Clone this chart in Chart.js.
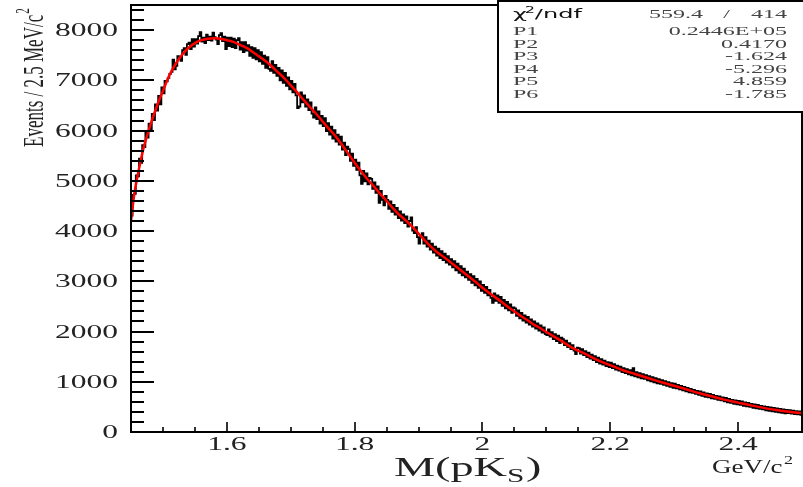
<!DOCTYPE html>
<html>
<head>
<meta charset="utf-8">
<script src="https://cdn.jsdelivr.net/npm/chart.js@4.4.0/dist/chart.umd.min.js"></script>
<style>
  body { margin: 0; background: #fff; }
</style>
</head>
<body>
<canvas id="massChart" width="803" height="487"></canvas>
<script>
// histogram: 420 bins of 2.5 MeV from 1.45 to 2.50 GeV
var binLow = 1.45;
var binWidth = 0.0025;
var counts = [
  4310, 4720, 4740, 5110, 5090, 5440, 5360, 5710, 5670, 5960,
  5860, 6140, 6020, 6330, 6210, 6520, 6400, 6690, 6520, 6860,
  6740, 6990, 6980, 7050, 7130, 7170, 7410, 7220, 7290, 7480,
  7470, 7390, 7600, 7640, 7510, 7720, 7750, 7620, 7820, 7670,
  7820, 7730, 7880, 7960, 7770, 7850, 7740, 7910, 7800, 7870,
  7790, 7950, 7860, 7810, 7720, 7900, 7940, 7780, 7870, 7620,
  7850, 7680, 7850, 7660, 7830, 7640, 7800, 7840, 7610, 7760,
  7560, 7760, 7590, 7700, 7490, 7660, 7450, 7640, 7420, 7600,
  7380, 7560, 7330, 7490, 7250, 7460, 7230, 7190, 7380, 7150,
  7310, 7090, 7250, 7000, 7200, 6950, 7150, 6890, 7060, 6820,
  6990, 6760, 6930, 6700, 6450, 6480, 6760, 6560, 6700, 6480,
  6620, 6410, 6560, 6340, 6260, 6460, 6230, 6380, 6140, 6290,
  6090, 6250, 5990, 6150, 5920, 6080, 5840, 6010, 5780, 5920,
  5720, 5880, 5620, 5760, 5510, 5680, 5630, 5400, 5540, 5300,
  5420, 5220, 5360, 5110, 4940, 5200, 4990, 5150, 4930, 5060,
  5040, 4840, 4970, 4760, 4890, 4560, 4800, 4620, 4510, 4700,
  4620, 4440, 4590, 4380, 4520, 4330, 4460, 4260, 4390, 4210,
  4330, 4160, 4290, 4090, 4200, 4270, 4010, 3960, 4080, 3880,
  3750, 3910, 3960, 3750, 3880, 3690, 3810, 3630, 3750, 3570,
  3690, 3510, 3650, 3460, 3600, 3420, 3550, 3370, 3500, 3330,
  3440, 3280, 3400, 3220, 3350, 3170, 3300, 3120, 3250, 3080,
  3190, 3030, 3140, 2970, 3100, 2920, 3050, 2870, 3000, 2810,
  2930, 2770, 2890, 2720, 2830, 2670, 2570, 2760, 2610, 2720,
  2570, 2690, 2510, 2630, 2460, 2590, 2420, 2540, 2370, 2480,
  2460, 2310, 2420, 2260, 2370, 2220, 2320, 2180, 2290, 2140,
  2240, 2100, 2200, 2060, 2160, 2020, 2120, 1980, 2080, 1950,
  1930, 2040, 1900, 1990, 1850, 1950, 1810, 1920, 1770, 1880,
  1850, 1730, 1820, 1690, 1770, 1650, 1730, 1620, 1550, 1680,
  1670, 1560, 1650, 1530, 1610, 1490, 1580, 1460, 1540, 1430,
  1510, 1390, 1480, 1360, 1450, 1340, 1420, 1310, 1390, 1290,
  1380, 1270, 1350, 1240, 1320, 1220, 1300, 1190, 1270, 1170,
  1250, 1150, 1230, 1130, 1270, 1110, 1190, 1090, 1170, 1070,
  1150, 1060, 1130, 1030, 1110, 1010, 1090, 990, 1070, 970,
  1050, 960, 1030, 940, 1010, 920, 990, 900, 970, 880,
  960, 870, 940, 850, 920, 830, 900, 810, 880, 790,
  860, 780, 840, 760, 820, 740, 810, 720, 790, 700,
  770, 690, 760, 670, 740, 660, 720, 640, 710, 630,
  690, 610, 680, 590, 660, 580, 640, 560, 630, 550,
  620, 540, 610, 520, 590, 510, 580, 500, 560, 480,
  550, 470, 540, 460, 520, 450, 510, 430, 500, 420,
  490, 410, 480, 400, 470, 390, 460, 380, 450, 370,
  440, 375, 435, 365, 425, 355, 415, 350, 410, 340
];

// fit curve
var fitX = [1.450, 1.455, 1.460, 1.465, 1.470,
  1.48, 1.49, 1.50, 1.51, 1.52, 1.53, 1.54, 1.55, 1.56, 1.57,
  1.58, 1.59, 1.60, 1.61, 1.62, 1.63, 1.64, 1.65, 1.66, 1.67,
  1.68, 1.69, 1.70, 1.71, 1.72, 1.73, 1.74, 1.75, 1.76, 1.77,
  1.78, 1.79, 1.80, 1.81, 1.82, 1.83, 1.84, 1.85, 1.86, 1.87,
  1.88, 1.89, 1.90, 1.91, 1.92, 1.93, 1.94, 1.95, 1.96, 1.97,
  1.98, 1.99, 2.00, 2.01, 2.02, 2.03, 2.04, 2.05, 2.06, 2.07,
  2.08, 2.09, 2.10,
  2.12, 2.14, 2.16, 2.18, 2.20, 2.22, 2.24, 2.26, 2.28, 2.30,
  2.32, 2.34, 2.36, 2.38, 2.40, 2.42, 2.44, 2.46, 2.48, 2.50];
var fitY = [4200, 4720, 5080, 5390, 5670,
  6100, 6470, 6790, 7100, 7330, 7510, 7650, 7740, 7800, 7830,
  7840, 7830, 7800, 7765, 7710, 7650, 7570, 7480, 7390, 7280,
  7160, 7040, 6900, 6760, 6610, 6470, 6330, 6180, 6030, 5890,
  5720, 5540, 5360, 5190, 5030, 4890, 4740, 4600, 4450, 4320,
  4210, 4090, 3950, 3810, 3680, 3570, 3480, 3380, 3280, 3180,
  3080, 2980, 2870, 2770, 2680, 2590, 2490, 2400, 2310, 2230,
  2140, 2070, 1990,
  1840, 1680, 1560, 1430, 1330, 1230, 1150, 1070, 990, 920,
  845, 770, 705, 640, 585, 530, 480, 440, 405, 375];

var xTickValues = [1.6, 1.8, 2.0, 2.2, 2.4];
var xTickLabels = ['1.6', '1.8', '2', '2.2', '2.4'];
var yTickValues = [0, 1000, 2000, 3000, 4000, 5000, 6000, 7000, 8000];

var statNames = ['P1', 'P2', 'P3', 'P4', 'P5', 'P6'];
var statValues = ['0.2446E+05', '0.4170', '-1.624', '-5.296', '4.859', '-1.785'];
var chi2 = '559.4';
var ndf = '414';

var histPoints = counts.map(function (c, i) {
  return { x: binLow + binWidth * (i + 0.5), y: c };
});
var fitPoints = fitX.map(function (x, i) {
  return { x: x, y: fitY[i] };
});

var SERIF = '"Liberation Serif", "Times New Roman", serif';
var SX = 1.75; // the picture is stretched sideways

function stretchText(ctx, str, x, y, align, sx) {
  ctx.save();
  ctx.translate(x, y);
  ctx.scale(sx, 1);
  ctx.textAlign = align;
  ctx.fillText(str, 0, 0);
  ctx.restore();
}

var rootAxes = {
  id: 'rootAxes',
  afterDraw: function (chart) {
    var ctx = chart.ctx;
    var a = chart.chartArea;
    var xs = chart.scales.x;
    var ys = chart.scales.y;
    ctx.save();

    // frame
    ctx.strokeStyle = '#000';
    ctx.lineWidth = 2;
    ctx.strokeRect(a.left, a.top, a.right - a.left, a.bottom - a.top);

    // y ticks, inside
    ctx.beginPath();
    for (var v = 200; v <= 8400; v += 200) {
      var py = Math.round(ys.getPixelForValue(v));
      ctx.moveTo(a.left, py);
      ctx.lineTo(a.left + (v % 1000 === 0 ? 23 : 13), py);
    }
    ctx.stroke();

    // x ticks, inside
    ctx.lineWidth = 1.6;
    ctx.beginPath();
    for (var k = 30; k < 50; k++) {
      var px = Math.round(xs.getPixelForValue(k * 0.05));
      ctx.moveTo(px, a.bottom);
      ctx.lineTo(px, a.bottom - (k % 4 === 0 ? 10 : 5));
    }
    ctx.stroke();

    // tick labels
    ctx.fillStyle = '#222';
    ctx.font = '18px ' + SERIF;
    yTickValues.forEach(function (v) {
      stretchText(ctx, String(v), a.left - 13, ys.getPixelForValue(v) + 6, 'right', SX);
    });
    xTickValues.forEach(function (v, i) {
      stretchText(ctx, xTickLabels[i], xs.getPixelForValue(v), 450, 'center', SX);
    });

    // x title M(pK_S), centred under the axis
    var tx = 394;
    ctx.font = '28px ' + SERIF;
    ctx.textAlign = 'left';
    ctx.save();
    ctx.translate(tx, 476);
    ctx.scale(1.65, 1);
    ctx.fillText('M(pK', 0, 0);
    var w1 = ctx.measureText('M(pK').width;
    ctx.font = '19px ' + SERIF;
    ctx.fillText('S', w1, 6);
    var w2 = ctx.measureText('S').width;
    ctx.font = '28px ' + SERIF;
    ctx.fillText(')', w1 + w2 + 1, 0);
    ctx.restore();

    // unit
    ctx.save();
    ctx.font = '18px ' + SERIF;
    ctx.translate(712, 473);
    ctx.scale(1.5, 1);
    ctx.textAlign = 'left';
    ctx.fillText('GeV/c', 0, 0);
    var wu = ctx.measureText('GeV/c').width;
    ctx.font = '12px ' + SERIF;
    ctx.fillText('2', wu + 1, -9);
    ctx.restore();

    // y title, rotated
    ctx.save();
    ctx.translate(43, 147);
    ctx.rotate(-Math.PI / 2);
    ctx.scale(1, SX);
    ctx.font = '17px ' + SERIF;
    ctx.textAlign = 'left';
    ctx.fillText('Events / 2.5 MeV/c', 0, 0);
    var wy = ctx.measureText('Events / 2.5 MeV/c').width;
    ctx.font = '11px ' + SERIF;
    ctx.fillText('2', wy + 1, -8);
    ctx.restore();

    // stat box
    ctx.fillStyle = '#fff';
    ctx.fillRect(497, 0, 306, 112);
    ctx.strokeStyle = '#000';
    ctx.lineWidth = 2;
    ctx.strokeRect(498, 1, 310, 111);

    ctx.fillStyle = '#111';
    ctx.font = '12px "DejaVu Sans", sans-serif';
    ctx.save();
    ctx.translate(513, 18);
    ctx.scale(2, 1);
    ctx.textAlign = 'left';
    ctx.fillText('\u03c7', 0, 0);
    var wc = ctx.measureText('\u03c7').width;
    ctx.font = '8px "DejaVu Sans", sans-serif';
    ctx.fillText('2', wc - 1, -5);
    ctx.font = '12px "DejaVu Sans", sans-serif';
    ctx.fillText('/ndf', wc + 4, 0);
    ctx.restore();

    ctx.fillStyle = '#444';
    ctx.font = '12px ' + SERIF;
    stretchText(ctx, chi2, 703, 18, 'right', 2);
    stretchText(ctx, '/', 730, 18, 'right', 2);
    stretchText(ctx, ndf, 787, 18, 'right', 2);
    statNames.forEach(function (n, i) {
      var by = 35 + i * 12.5;
      stretchText(ctx, n, 513, by, 'left', 2);
      stretchText(ctx, statValues[i], 787, by, 'right', 2);
    });

    ctx.restore();
  }
};

new Chart(document.getElementById('massChart'), {
  type: 'line',
  data: {
    datasets: [{
      label: 'data',
      data: histPoints,
      stepped: 'middle',
      borderColor: '#000',
      borderWidth: 1.8,
      pointRadius: 0,
      fill: false,
      order: 2
    }, {
      label: 'fit',
      data: fitPoints,
      borderColor: '#ff0000',
      borderWidth: 2.5,
      pointRadius: 0,
      cubicInterpolationMode: 'monotone',
      fill: false,
      order: 1
    }]
  },
  options: {
    responsive: false,
    animation: false,
    devicePixelRatio: 1,
    layout: {
      padding: { left: 131, top: 5, right: 1, bottom: 55 }
    },
    scales: {
      x: {
        type: 'linear',
        min: 1.45,
        max: 2.5,
        display: false
      },
      y: {
        min: 0,
        max: 8500,
        display: false
      }
    },
    plugins: {
      legend: { display: false },
      tooltip: { enabled: false }
    },
    events: []
  },
  plugins: [rootAxes]
});
</script>
</body>
</html>
